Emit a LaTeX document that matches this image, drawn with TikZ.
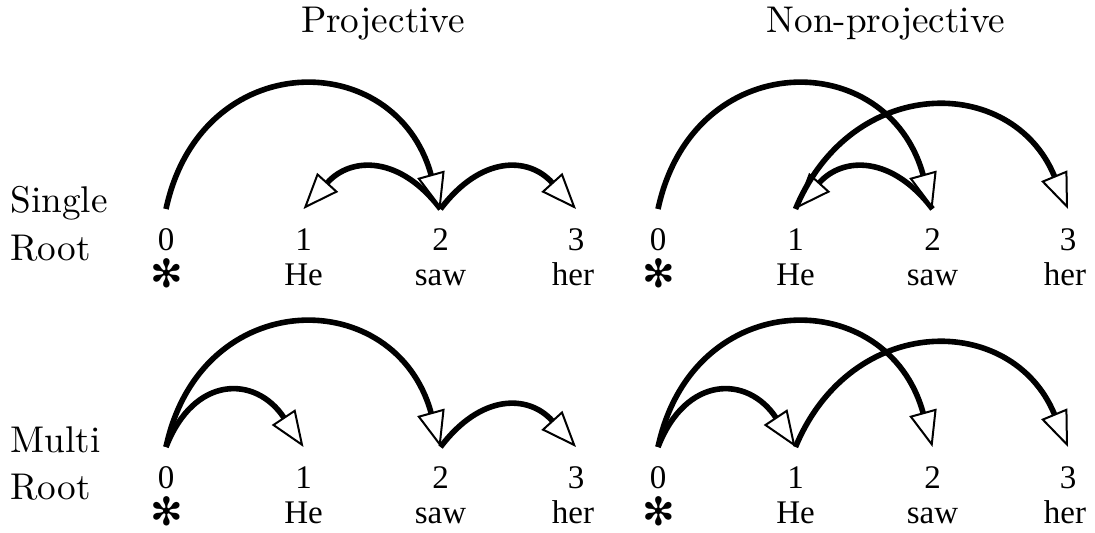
\documentclass[tikz,border=0pt]{standalone}
\usepackage{fontspec}
\setmainfont{lmroman10-regular.otf}
\newfontfamily\tms{Liberation Serif}
\newfontfamily\dvs{DejaVu Sans}
\usetikzlibrary{arrows.meta}
\begin{document}
\begin{tikzpicture}[x=0.5pt,y=-0.5pt,
  dep/.style={line width=2.8pt,-{Triangle[fill=white,length=18pt,width=14pt,line width=1pt]}},
  lbl/.style={font=\fontsize{18.6}{20}\selectfont,anchor=base west,inner sep=0pt},
  ttl/.style={font=\fontsize{18.6}{20}\selectfont,anchor=base,inner sep=0pt},
  num/.style={font=\tms\fontsize{16.5}{18}\selectfont,anchor=base,inner sep=0pt},
  wrd/.style={font=\tms\fontsize{16.5}{18}\selectfont,anchor=base,inner sep=0pt},
  star/.style={font=\dvs\fontsize{19.5}{21}\selectfont,inner sep=0pt}]
\useasboundingbox (0,0) rectangle (1095,532);

\node[ttl] (tproj) at (383,32) {Projective};
\node[ttl] (tnonproj) at (886,32) {Non-projective};
\node[lbl] (lsingle) at (10,212) {Single};
\node[lbl] (lroota) at (10,260) {Root};
\node[lbl] (lmulti) at (10,452) {Multi};
\node[lbl] (lrootb) at (10,499) {Root};

\foreach \p/\ox/\oy in {tl/0/0,tr/492/0,bl/0/238,br/492/238}{
  \coordinate (\p0) at (166+\ox,209+\oy);
  \coordinate (\p1) at (303.5+\ox,209+\oy);
  \coordinate (\p2) at (440.5+\ox,209+\oy);
  \coordinate (\p3) at (576+\ox,209+\oy);
  \node[num] (\p n0) at (166+\ox,250+\oy) {0};
  \node[num] (\p n1) at (303.5+\ox,250+\oy) {1};
  \node[num] (\p n2) at (440.5+\ox,250+\oy) {2};
  \node[num] (\p n3) at (576+\ox,250+\oy) {3};
  \node[star] (\p w0) at (167+\ox,273.5+\oy) {✻};
  \node[wrd] (\p w1) at (303.5+\ox,285+\oy) {He};
  \node[wrd] (\p w2) at (440.5+\ox,285+\oy) {saw};
  \node[wrd] (\p w3) at (573+\ox,285+\oy) {her};
}

% top left: projective, single root
\draw[dep] (tl2) .. controls +(-40,-53) and +(48,-53) .. (tl1);
\draw[dep] (tl2) .. controls +(40,-53) and +(-48,-53) .. (tl3);
\draw[dep] (tl0) .. controls +(35,-163) and +(-45,-163) .. (tl2);

% top right: non-projective, single root
\draw[dep] (tr2) .. controls +(-40,-53) and +(48,-53) .. (tr1);
\draw[dep] (tr0) .. controls +(35,-163) and +(-45,-163) .. (tr2);
\draw[dep] (tr1) .. controls +(56,-135) and +(-56,-135) .. (tr3);

% bottom left: projective, multi root
\draw[dep] (bl0) .. controls +(28,-72) and +(-48,-72) .. (bl1);
\draw[dep] (bl2) .. controls +(40,-53) and +(-48,-53) .. (bl3);
\draw[dep] (bl0) .. controls +(35,-163) and +(-45,-163) .. (bl2);

% bottom right: non-projective, multi root
\draw[dep] (br0) .. controls +(28,-72) and +(-48,-72) .. (br1);
\draw[dep] (br0) .. controls +(35,-163) and +(-45,-163) .. (br2);
\draw[dep] (br1) .. controls +(56,-135) and +(-56,-135) .. (br3);
\end{tikzpicture}
\end{document}
